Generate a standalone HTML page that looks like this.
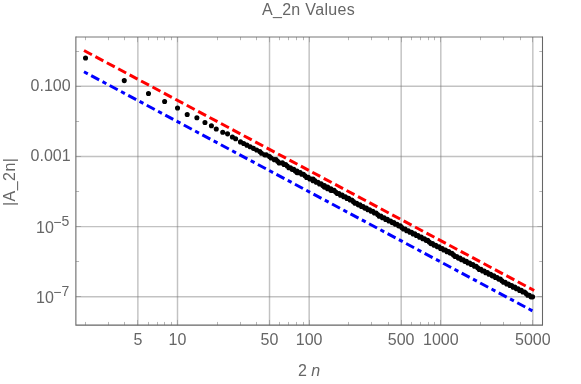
<!DOCTYPE html>
<html><head><meta charset="utf-8"><title>A_2n Values</title>
<style>
html,body{margin:0;padding:0;background:#fff;}
body{width:581px;height:384px;overflow:hidden;font-family:"Liberation Sans",sans-serif;}
svg{display:block;}
text{font-family:"Liberation Sans",sans-serif;fill:#666666;}
</style></head><body>
<svg style="will-change:transform" width="581" height="384" viewBox="0 0 581 384">
<rect width="581" height="384" fill="#fff"/>
<path d="M137.87 37.00V325.13M177.50 37.00V325.13M269.52 37.00V325.13M309.15 37.00V325.13M401.17 37.00V325.13M440.80 37.00V325.13M532.82 37.00V325.13" stroke="#787878" stroke-opacity="0.45" stroke-width="1.45" fill="none"/>
<path d="M75.88 86.30H542.50M75.88 156.46H542.50M75.88 226.62H542.50M75.88 296.78H542.50" stroke="#787878" stroke-opacity="0.45" stroke-width="1.45" fill="none"/>
<path d="M85.50 325.13v-3.20M85.50 37.00v3.20M108.50 325.13v-3.20M108.50 37.00v3.20M124.50 325.13v-3.20M124.50 37.00v3.20M148.50 325.13v-3.20M148.50 37.00v3.20M157.50 325.13v-3.20M157.50 37.00v3.20M164.50 325.13v-3.20M164.50 37.00v3.20M171.50 325.13v-3.20M171.50 37.00v3.20M217.50 325.13v-3.20M217.50 37.00v3.20M240.50 325.13v-3.20M240.50 37.00v3.20M256.50 325.13v-3.20M256.50 37.00v3.20M279.50 325.13v-3.20M279.50 37.00v3.20M288.50 325.13v-3.20M288.50 37.00v3.20M296.50 325.13v-3.20M296.50 37.00v3.20M303.50 325.13v-3.20M303.50 37.00v3.20M348.50 325.13v-3.20M348.50 37.00v3.20M371.50 325.13v-3.20M371.50 37.00v3.20M388.50 325.13v-3.20M388.50 37.00v3.20M411.50 325.13v-3.20M411.50 37.00v3.20M420.50 325.13v-3.20M420.50 37.00v3.20M428.50 325.13v-3.20M428.50 37.00v3.20M434.50 325.13v-3.20M434.50 37.00v3.20M480.50 325.13v-3.20M480.50 37.00v3.20M503.50 325.13v-3.20M503.50 37.00v3.20M520.50 325.13v-3.20M520.50 37.00v3.20M75.88 261.50h3.20M542.50 261.50h-3.20M75.88 191.50h3.20M542.50 191.50h-3.20M75.88 121.50h3.20M542.50 121.50h-3.20M75.88 51.50h3.20M542.50 51.50h-3.20" stroke="#b6b6b6" stroke-width="1" fill="none"/>
<path d="M137.50 325.13v-5.20M137.50 37.00v5.20M177.50 325.13v-5.20M177.50 37.00v5.20M269.50 325.13v-5.20M269.50 37.00v5.20M309.50 325.13v-5.20M309.50 37.00v5.20M401.50 325.13v-5.20M401.50 37.00v5.20M440.50 325.13v-5.20M440.50 37.00v5.20M532.50 325.13v-5.20M532.50 37.00v5.20M75.88 296.50h5.20M542.50 296.50h-5.20M75.88 226.50h5.20M542.50 226.50h-5.20M75.88 156.50h5.20M542.50 156.50h-5.20M75.88 86.50h5.20M542.50 86.50h-5.20" stroke="#8c8c8c" stroke-width="1" stroke-opacity="0.55" fill="none"/>
<clipPath id="c"><rect x="75.88" y="37.00" width="466.62" height="288.13"/></clipPath>
<path d="M85.54 57.99h0M124.27 80.59h0M148.48 93.50h0M164.62 101.57h0M177.53 108.02h0M187.21 114.48h0M196.89 117.71h0M204.96 122.55h0M211.42 125.78h0M216.26 129.01h0M222.72 132.23h0M227.56 133.85h0M232.40 137.07h0M235.63 138.69h0M240.47 141.92h0M243.70 143.53h0M246.93 145.14h0M250.15 146.76h0M253.38 148.37h0M256.61 149.99h0M259.84 151.60h0M261.45 153.21h0M264.68 154.83h0M266.29 154.83h0M269.52 156.44h0M271.13 158.06h0M274.36 159.67h0M275.98 159.67h0M277.59 161.28h0M279.20 162.90h0M282.43 162.90h0M284.04 164.51h0M285.66 164.51h0M287.27 166.12h0M288.89 167.74h0M290.50 167.74h0M292.11 169.35h0M293.73 169.35h0M295.34 170.97h0M296.96 170.97h0M296.96 172.58h0M298.57 172.58h0M300.18 172.58h0M301.80 174.19h0M303.41 174.19h0M305.03 175.81h0M306.64 177.42h0M308.25 177.42h0M309.87 179.04h0M311.48 179.04h0M313.09 179.04h0M313.09 180.65h0M314.71 180.65h0M316.32 182.26h0M317.94 182.26h0M319.55 183.88h0M321.16 183.88h0M322.78 185.49h0M324.39 185.49h0M324.39 187.11h0M326.01 187.11h0M327.62 187.11h0M327.62 188.72h0M329.23 188.72h0M330.85 188.72h0M330.85 190.33h0M332.46 190.33h0M332.46 190.33h0M334.07 190.33h0M335.69 191.95h0M337.30 193.56h0M338.92 193.56h0M340.53 195.17h0M342.14 195.17h0M343.76 196.79h0M345.37 196.79h0M346.99 198.40h0M348.60 198.40h0M350.21 200.02h0M351.83 200.02h0M353.44 201.63h0M355.06 203.24h0M356.67 203.24h0M358.28 204.86h0M359.90 204.86h0M361.51 206.47h0M363.12 206.47h0M364.74 208.09h0M366.35 208.09h0M367.97 209.70h0M369.58 209.70h0M371.19 211.31h0M372.81 211.31h0M374.42 212.93h0M376.04 212.93h0M377.65 214.54h0M379.26 216.16h0M380.88 216.16h0M382.49 217.77h0M384.11 217.77h0M385.72 219.38h0M387.33 219.38h0M388.95 221.00h0M390.56 221.00h0M392.18 222.61h0M393.79 222.61h0M395.40 224.22h0M397.02 224.22h0M398.63 225.84h0M400.24 225.84h0M401.86 227.45h0M403.47 229.07h0M405.09 229.07h0M406.70 230.68h0M408.31 230.68h0M409.93 232.29h0M411.54 232.29h0M413.16 233.91h0M414.77 233.91h0M416.38 235.52h0M418.00 235.52h0M419.61 237.14h0M421.23 237.14h0M422.84 238.75h0M424.45 238.75h0M426.07 240.36h0M427.68 240.36h0M429.29 241.98h0M430.91 243.59h0M432.52 243.59h0M434.14 245.21h0M435.75 245.21h0M437.36 246.82h0M438.98 246.82h0M440.59 248.43h0M442.21 248.43h0M443.82 250.05h0M445.43 250.05h0M447.05 251.66h0M448.66 251.66h0M450.28 253.28h0M451.89 253.28h0M453.50 254.89h0M455.12 256.50h0M456.73 256.50h0M458.34 258.12h0M459.96 258.12h0M461.57 259.73h0M463.19 259.73h0M464.80 261.34h0M466.41 261.34h0M468.03 262.96h0M469.64 262.96h0M471.26 264.57h0M472.87 264.57h0M474.48 266.19h0M476.10 266.19h0M477.71 267.80h0M479.32 269.41h0M480.94 269.41h0M482.55 271.03h0M484.17 271.03h0M485.78 272.64h0M487.39 272.64h0M489.01 274.26h0M490.62 274.26h0M492.24 275.87h0M493.85 275.87h0M495.46 277.48h0M497.08 277.48h0M498.69 279.10h0M500.31 279.10h0M501.92 280.71h0M503.53 282.32h0M505.15 282.32h0M506.76 283.94h0M508.38 283.94h0M509.99 285.55h0M511.60 285.55h0M513.22 287.17h0M514.83 287.17h0M516.44 288.78h0M518.06 288.78h0M519.67 290.39h0M521.29 290.39h0M522.90 292.01h0M524.51 292.01h0M526.13 293.62h0M527.74 295.24h0M529.36 295.24h0M530.97 296.85h0M532.58 296.85h0" stroke="#000" stroke-width="5.1" stroke-linecap="round" fill="none"/>
<path d="M84.00 50.53L534.20 290.50" pathLength="450.200" stroke="#ff0000" stroke-width="3.0" stroke-dasharray="7.9 3.516" fill="none"/>
<path d="M84.00 71.80L534.20 311.77" pathLength="450.200" stroke="#0000ff" stroke-width="3.0" stroke-dasharray="3.8 3.39 7.95 3.385" fill="none"/>
<path d="M75.88 36.55V325.13H542.50V36.55" fill="none" stroke="#666666" stroke-width="1.07" stroke-linejoin="miter"/>
<path d="M75.88 37.00H542.50" fill="none" stroke="#666666" stroke-width="0.9"/>
<g style="filter:opacity(0.999)">
<text x="137.87" y="344.8" font-size="16" text-anchor="middle">5</text>
<text x="177.50" y="344.8" font-size="16" text-anchor="middle">10</text>
<text x="269.52" y="344.8" font-size="16" text-anchor="middle">50</text>
<text x="309.15" y="344.8" font-size="16" text-anchor="middle">100</text>
<text x="401.17" y="344.8" font-size="16" text-anchor="middle">500</text>
<text x="440.80" y="344.8" font-size="16" text-anchor="middle">1000</text>
<text x="532.82" y="344.8" font-size="16" text-anchor="middle">5000</text>
<text x="70.6" y="90.70" font-size="16" text-anchor="end">0.100</text>
<text x="70.6" y="160.86" font-size="16" text-anchor="end">0.001</text>
<text x="36.0" y="233.02" font-size="16">10<tspan dy="-5.7" dx="-0.6" font-size="14">−</tspan><tspan dy="-1.0" font-size="14">5</tspan></text>
<text x="36.0" y="303.18" font-size="16">10<tspan dy="-5.7" dx="-0.6" font-size="14">−</tspan><tspan dy="-1.0" font-size="14">7</tspan></text>
<text x="308.5" y="14.5" font-size="16" text-anchor="middle" letter-spacing="0.33">A_2n Values</text>
<text x="309" y="375.8" font-size="16" text-anchor="middle">2 <tspan font-style="italic">n</tspan></text>
<text transform="translate(15.4 181.8) rotate(-90)" font-size="16" text-anchor="middle" letter-spacing="0.45">|A_2n|</text>
</g>
</svg></body></html>
